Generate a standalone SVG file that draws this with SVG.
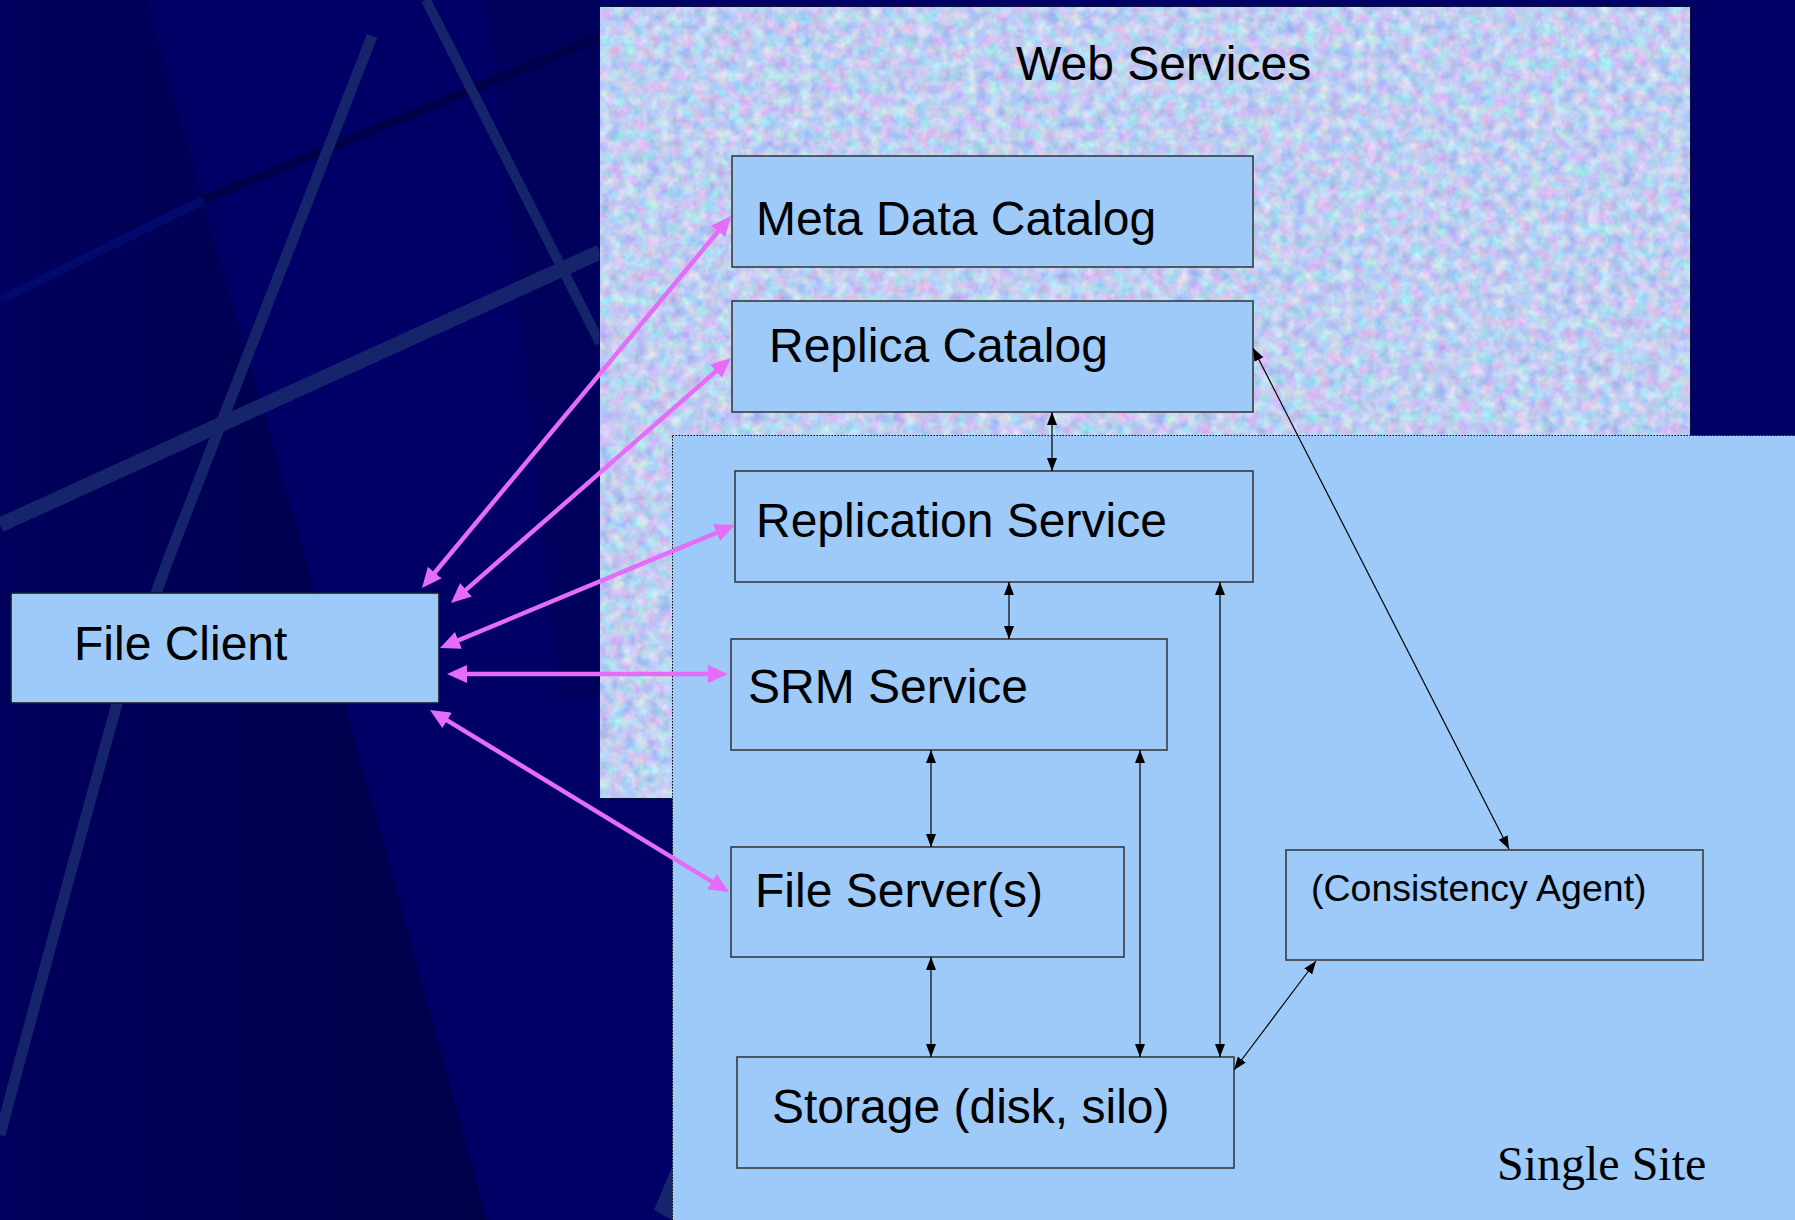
<svg xmlns="http://www.w3.org/2000/svg" width="1795" height="1220" viewBox="0 0 1795 1220">
<defs>
<style>
.box{fill:#9ECAF9;stroke:#3a3a3a;stroke-width:1.6}
.lbl{font-family:"Liberation Sans",Arial,sans-serif;font-size:48px;fill:#000}
.blk{stroke:#000;stroke-width:1.2;fill:none;marker-start:url(#bh);marker-end:url(#bh)}
.mag{stroke:#E46CF6;stroke-width:4.5;fill:none;marker-start:url(#mh);marker-end:url(#mh)}
.stripe{fill:none;stroke:#16246C;stroke-linecap:butt}
</style>
<marker id="mh" markerUnits="userSpaceOnUse" viewBox="0 0 20 18" markerWidth="20" markerHeight="18" refX="10" refY="9" orient="auto-start-reverse">
<path d="M0,0 L20,9 L0,18 z" fill="#E46CF6"/>
</marker>
<marker id="bh" markerUnits="userSpaceOnUse" viewBox="0 0 13 10" markerWidth="13" markerHeight="10" refX="13" refY="5" orient="auto-start-reverse">
<path d="M0,0 L13,5 L0,10 z" fill="#000"/>
</marker>
<linearGradient id="gL" gradientUnits="userSpaceOnUse" x1="0" y1="0" x2="480" y2="0">
<stop offset="0" stop-color="#00005E"/>
<stop offset="1" stop-color="#000049"/>
</linearGradient>
<filter id="tex" x="0" y="0" width="100%" height="100%" color-interpolation-filters="sRGB">
<feTurbulence type="fractalNoise" baseFrequency="0.085" numOctaves="4" seed="7" result="n"/>
<feColorMatrix in="n" type="matrix" values="0.5 0 0 0 0.5  0 0.38 0 0 0.62  0 0 0.16 0 0.865  0 0 0 0 1"/>
</filter>
</defs>

<g id="background">
<rect x="0" y="0" width="1795" height="1220" fill="#000066"/>
<polygon points="0,0 147,0 203,200 306,560 344,700 487,1220 0,1220" fill="url(#gL)"/>
<polygon points="486,0 600,0 600,700 560,700" fill="#00005A" opacity="0.7"/>
<path d="M0,300 L203,200" fill="none" stroke="#000A6C" stroke-width="9"/>
<path d="M203,200 L600,37" fill="none" stroke="#00004A" stroke-width="9"/>
<path class="stripe" d="M426,0 L600,343" stroke-width="10"/>
<path class="stripe" d="M0,525 L600,252" stroke-width="15"/>
<path class="stripe" d="M372,36 L168,560 L118,700 Q60,910 0,1135" stroke-width="11"/>
<polygon points="672,1167 654,1210 672,1220" fill="#16246C"/>
</g>

<g id="web-services">
<rect x="600" y="7" width="1090" height="791" fill="#BFCEF2" stroke="#101030" stroke-width="1.5"/>
<rect x="600.75" y="7.75" width="1088.5" height="789.5" filter="url(#tex)"/>
<text class="lbl" x="1016" y="80">Web Services</text>
</g>

<g id="single-site">
<rect x="672.5" y="435.5" width="1130" height="800" fill="#9ECAF9" stroke="#000" stroke-width="1" stroke-dasharray="1.5 1.5"/>
<text x="1497" y="1180" font-family="'Liberation Serif','Times New Roman',serif" font-size="48" fill="#000">Single Site</text>
</g>

<g id="meta-data-catalog">
<rect class="box" x="732" y="156" width="521" height="111"/>
<text class="lbl" x="756" y="235">Meta Data Catalog</text>
</g>

<g id="replica-catalog">
<rect class="box" x="732" y="301" width="521" height="111"/>
<text class="lbl" x="769" y="362">Replica Catalog</text>
</g>

<g id="replication-service">
<rect class="box" x="735" y="471" width="518" height="111"/>
<text class="lbl" x="756" y="537">Replication Service</text>
</g>

<g id="srm-service">
<rect class="box" x="731" y="639" width="436" height="111"/>
<text class="lbl" x="748" y="703">SRM Service</text>
</g>

<g id="file-servers">
<rect class="box" x="731" y="847" width="393" height="110"/>
<text class="lbl" x="755" y="907">File Server(s)</text>
</g>

<g id="storage">
<rect class="box" x="737" y="1057" width="497" height="111"/>
<text class="lbl" x="772" y="1123">Storage (disk, silo)</text>
</g>

<g id="consistency-agent">
<rect class="box" x="1286" y="850" width="417" height="110"/>
<text class="lbl" x="1311" y="901" style="font-size:37.5px">(Consistency Agent)</text>
</g>

<g id="file-client">
<rect class="box" x="11" y="593" width="428" height="110" style="stroke:#1a1a2a"/>
<text class="lbl" x="74" y="660">File Client</text>
</g>

<g id="connectors">
<path class="mag" d="M428.4,580.3 L724.6,223.7"/>
<path class="mag" d="M458.5,596.4 L723.5,364.6"/>
<path class="mag" d="M449.2,644.2 L725.8,528.8"/>
<path class="mag" d="M457,674 L718,674"/>
<path class="mag" d="M438.5,715.2 L720.5,886.8"/>
<path class="blk" d="M1052,412 L1052,471"/>
<path class="blk" d="M1009,582 L1009,639"/>
<path class="blk" d="M931,750 L931,847"/>
<path class="blk" d="M1140,750 L1140,1057"/>
<path class="blk" d="M1220,582 L1220,1057"/>
<path class="blk" d="M931,957 L931,1057"/>
<path class="blk" d="M1253,348 L1509,849"/>
<path class="blk" d="M1234,1070 L1316,961"/>
</g>
</svg>
